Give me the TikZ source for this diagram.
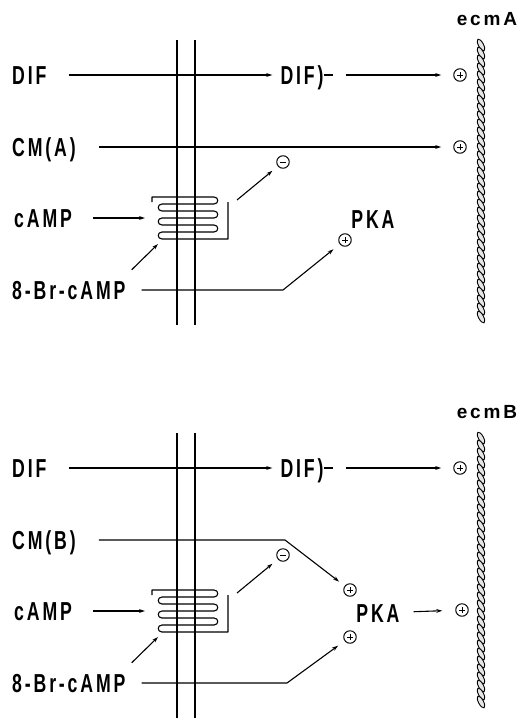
\documentclass[tikz,border=0pt]{standalone}
\usepackage{fontspec}
\setmainfont{Liberation Sans}[FakeStretch=0.68,LetterSpace=11]
\newfontfamily\ecmfont{Liberation Sans}[LetterSpace=15]
\usetikzlibrary{arrows.meta}
\tikzset{
 lab/.style={anchor=west,inner sep=0pt,text height=18pt,text depth=0pt,
  font=\fontsize{26}{26}\selectfont\bfseries},
 sig/.style={line width=1.1pt},
 memb/.style={line width=2.8pt},
 coil/.style={line width=1.1pt},
 ropeseg/.style={fill=gray!20,draw,line width=0.9pt},
 sgn/.style={circle,draw,line width=1pt,minimum size=12.5pt,inner sep=0pt},
 plussgn/.style={sgn,path picture={\draw[line width=1pt]
  ([xshift=-3pt]path picture bounding box.center) -- ([xshift=3pt]path picture bounding box.center)
  ([yshift=-3pt]path picture bounding box.center) -- ([yshift=3pt]path picture bounding box.center);}},
 minussgn/.style={sgn,path picture={\draw[line width=1pt]
  ([xshift=-3pt]path picture bounding box.center) -- ([xshift=3pt]path picture bounding box.center);}}
}
\begin{document}
\begin{tikzpicture}[x=1pt,y=-1pt,>={Stealth[length=6pt,width=3.8pt]},line join=round]
 \useasboundingbox (0,0) rectangle (519,721);
 % the two panels share membrane, receptor, DIF and cAMP inputs
 \foreach \p/\dy/\n in {A/0/34,B/393/33}{
 \begin{scope}[shift={(0,\dy)}]
  \draw[memb] (177,40) -- (177,325);
  \draw[memb] (195,40) -- (195,325);
  \draw[coil] (152,202) -- (152,197)
   \foreach \k in {0,14,28}{
    -- (214,197+\k) .. controls (219,197+\k) and (219,204+\k) .. (214,204+\k)
    -- (162,204+\k) .. controls (157,204+\k) and (157,211+\k) .. (162,211+\k)}
   -- (228,239) -- (228,202);
  \coordinate (rec\p) at (150,218);
  \coordinate (recl\p) at (158,244);
  \coordinate (reco\p) at (237,200);
  \node[lab] (dif\p) at (12,75) {DIF};
  \node[lab] (cm\p) at (12,147) {CM(\p)};
  \node[lab] (camp\p) at (14,218) {cAMP};
  \node[lab] (br\p) at (12,290) {8-Br-cAMP};
  \node[lab,anchor=center] (difr\p) at (302,75) {DIF)};
  \node[plussgn] (pd\p) at (460,75) {};
  \node[minussgn] (m\p) at (283,162) {};
  \node[font=\ecmfont\fontsize{19}{19}\selectfont\bfseries,inner sep=0pt]
   (ecm\p) at (487,19) {ecm\p};
  % twisted extracellular strand
  \foreach \i in {0,...,\n}
   \draw[ropeseg,shift={(481,{45+8*\i})},rotate=-62] (0,0) ellipse [x radius=6.6,y radius=2.5];
  \draw[sig,->,shorten <=22pt,shorten >=8pt] (dif\p) -- (difr\p);
  \draw[sig] (difr\p.east) -- ++(9,0);
  \draw[sig,->,shorten <=22pt,shorten >=12pt] (difr\p) -- (pd\p);
  \draw[sig,->,shorten <=21pt,shorten >=5pt] (camp\p) -- (rec\p);
  \draw[sig,->] ([shift={(6,-11)}]br\p.north east) -- (recl\p);
  \draw[sig,->,shorten >=7pt] (reco\p) -- (m\p);
 \end{scope}}
 % upper panel: CM(A) straight to ecmA, 8-Br-cAMP to PKA
 \begin{scope}
  \node[plussgn] (pcA) at (460,147) {};
  \node[plussgn] (pkpA) at (345,240) {};
  \node[lab,anchor=center] (pkaA) at (373,219) {PKA};
  \coordinate (kA) at (283,290);
  \draw[sig,->,shorten <=23pt,shorten >=12pt] (cmA) -- (pcA);
  \draw[sig,->,shorten <=16pt,shorten >=8pt] (brA) -- (kA) -- (pkpA);
 \end{scope}
 % lower panel: CM(B) and 8-Br-cAMP both act on PKA
 \begin{scope}[shift={(0,393)}]
  \node[plussgn] (pkuB) at (350,197) {};
  \node[plussgn] (pklB) at (350,244) {};
  \node[lab,anchor=center] (pkaB) at (378,220) {PKA};
  \node[plussgn] (pkB) at (462,217) {};
  \coordinate (kuB) at (285,147);
  \coordinate (klB) at (287,290);
  \draw[sig,->,shorten <=23pt,shorten >=7pt] (cmB) -- (kuB) -- (pkuB);
  \draw[sig,->,shorten <=16pt,shorten >=8pt] (brB) -- (klB) -- (pklB);
  \draw[sig,->,shorten <=14pt,shorten >=13pt] (pkaB) -- (pkB);
 \end{scope}
\end{tikzpicture}
\end{document}
